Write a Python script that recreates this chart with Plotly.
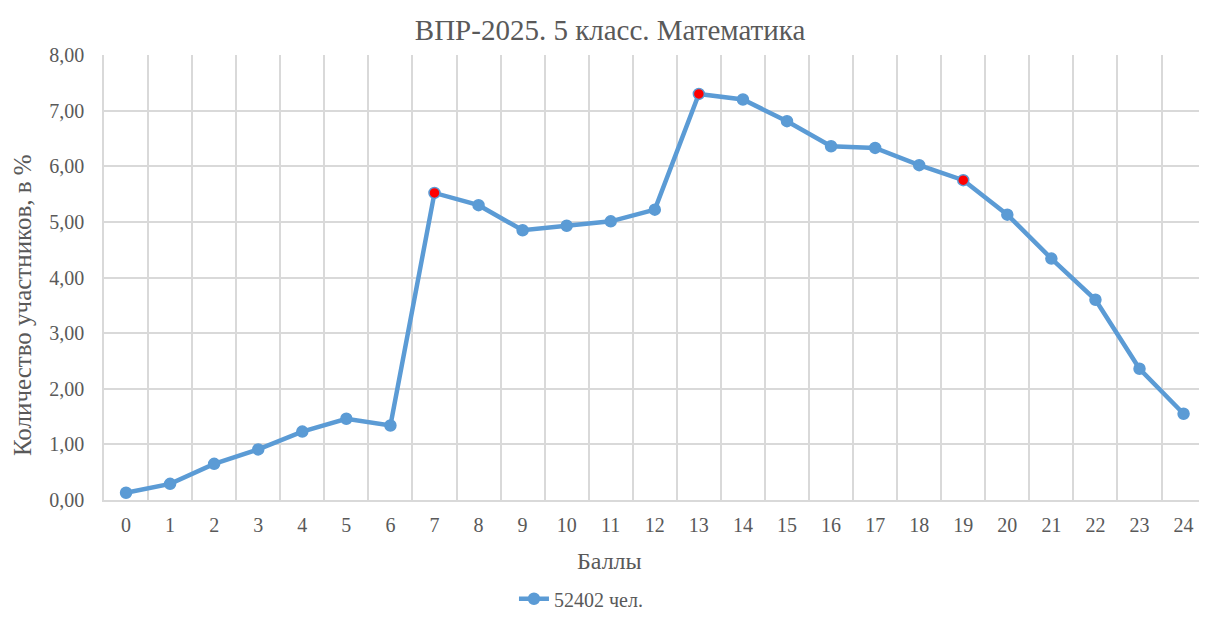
import plotly.graph_objects as go

scores = list(range(25))
percent = [0.13, 0.29, 0.65, 0.91, 1.23, 1.46, 1.34, 5.52, 5.30, 4.85, 4.93, 5.01, 5.22,
           7.30, 7.20, 6.81, 6.36, 6.33, 6.02, 5.75, 5.13, 4.34, 3.60, 2.36, 1.55]
highlight = [7, 13, 19]
series_name = "52402 чел."
title = "ВПР-2025. 5 класс. Математика"
x_title = "Баллы"
y_title = "Количество участников, в %"
y_ticks = [0, 1, 2, 3, 4, 5, 6, 7, 8]
y_labels = [f"{v:.2f}".replace(".", ",") for v in y_ticks]

BLUE = "#5B9BD5"
FONT = "Liberation Serif"
GRAY = "#595959"
GRID = "#D9D9D9"

marker_colors = ["red" if s in highlight else BLUE for s in scores]

fig = go.Figure()
fig.add_trace(go.Scatter(
    x=scores, y=percent, mode="lines+markers", name=series_name,
    line=dict(color=BLUE, width=4.5),
    marker=dict(size=11, color=marker_colors, line=dict(color=BLUE, width=1.5)),
))

fig.add_annotation(text=x_title, xref="paper", yref="paper", x=0.4621, y=-0.137,
                   xanchor="center", yanchor="middle", showarrow=False,
                   font=dict(family=FONT, size=24, color=GRAY))
fig.add_annotation(text=y_title, xref="paper", yref="paper", x=-0.0749, y=0.438,
                   xanchor="center", yanchor="middle", showarrow=False, textangle=-90,
                   font=dict(family=FONT, size=25, color=GRAY))

fig.update_layout(
    width=1191, height=605,
    margin=dict(l=96, r=0, t=47, b=113, autoexpand=False),
    paper_bgcolor="white", plot_bgcolor="white",
    font=dict(family=FONT, color=GRAY, size=20),
    title=dict(text=title, x=0.5055, xanchor="center", y=0.9636, yanchor="middle",
               font=dict(family=FONT, size=29, color=GRAY)),
    showlegend=True,
    legend=dict(orientation="h", x=0.3744, xanchor="left", y=-0.222, yanchor="middle",
                font=dict(family=FONT, size=20, color=GRAY)),
    xaxis=dict(
        range=[-0.5, 24.35], tickmode="array", tickvals=scores,
        ticktext=[str(s) for s in scores], showgrid=False, zeroline=False,
        showline=True, linecolor=GRID, linewidth=1.5, automargin=False,
        tickfont=dict(size=20, color=GRAY), ticklabelstandoff=6,
        minor=dict(tick0=0.5, dtick=1, showgrid=True, gridcolor=GRID, gridwidth=1.5),
        ticks="",
    ),
    yaxis=dict(
        range=[0, 8], tickmode="array", tickvals=y_ticks, ticktext=y_labels,
        showgrid=True, gridcolor=GRID, gridwidth=1.5, zeroline=False,
        showline=True, linecolor=GRID, linewidth=1.5, automargin=False,
        tickfont=dict(size=20, color=GRAY), ticks="", ticklabelstandoff=14,
    ),
)

fig.write_html("out.html")
